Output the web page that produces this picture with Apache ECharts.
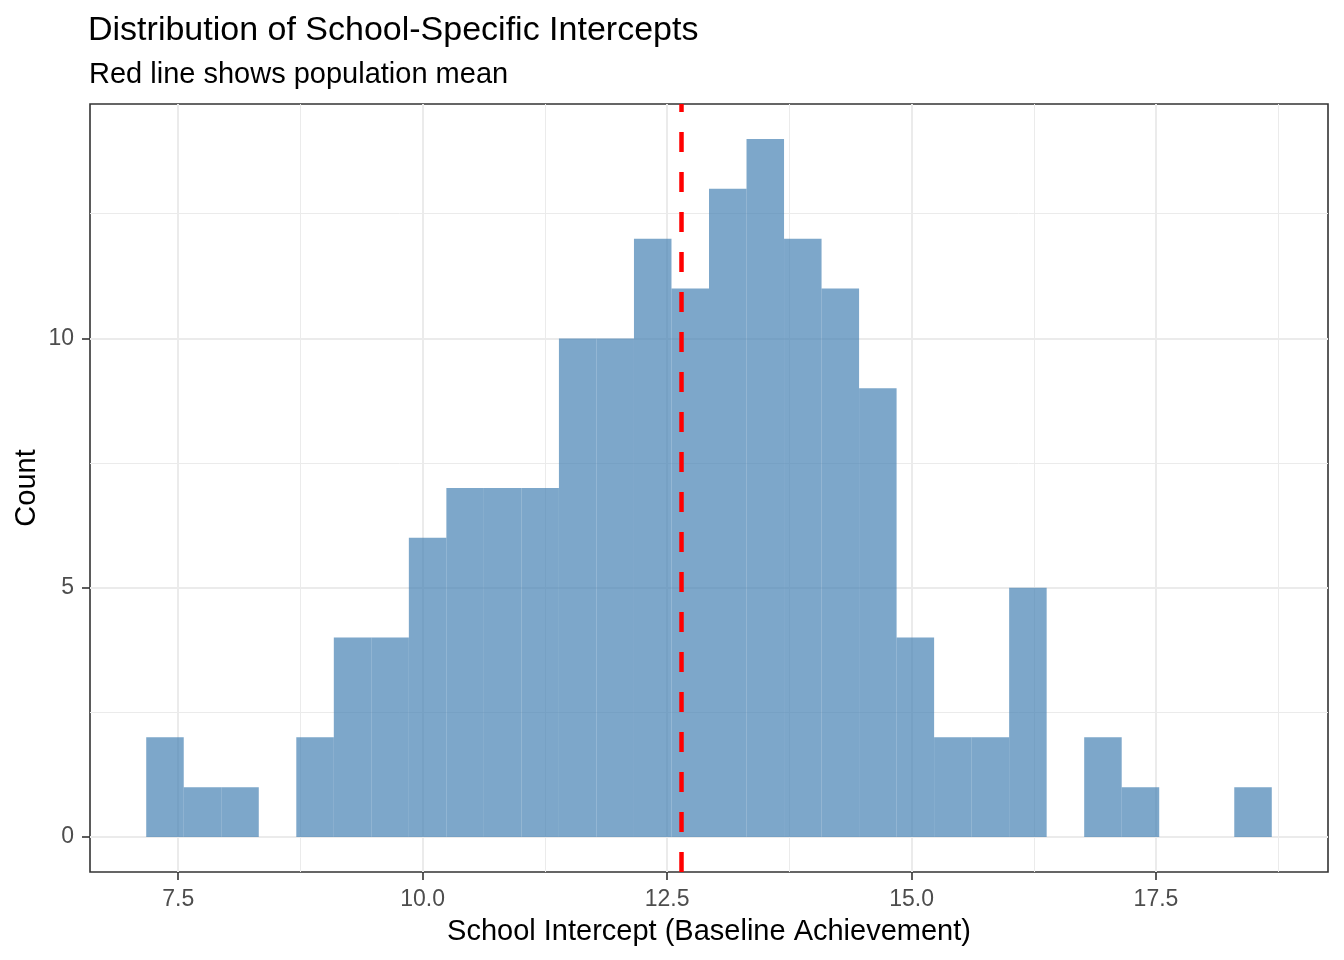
<!DOCTYPE html>
<html>
<head>
<meta charset="utf-8">
<script src="https://cdn.jsdelivr.net/npm/echarts@6/dist/echarts.min.js"></script>
<style>
html,body{margin:0;padding:0;background:#fff;}
#chart{width:1344px;height:960px;}
</style>
</head>
<body>
<div id="chart"></div>
<script>
// ---- data ----
const binStart = 7.173;       // left edge of first bin
const binWidth = 0.3837;      // bin width (30 bins)
const counts = [2,1,1,0,2,4,4,6,7,7,7,10,10,12,11,13,14,12,11,9,4,2,2,5,0,2,1,0,0,1];
const populationMean = 12.643;
const xTicks = [7.5, 10.0, 12.5, 15.0, 17.5];
const xMinorGrid = [8.75, 11.25, 13.75, 16.25, 18.75];
const yTicks = [0, 5, 10];
const yMinorGrid = [2.5, 7.5, 12.5];
const xRange = [6.598, 19.259];
const yRange = [-0.7, 14.7];

const FONT = "'Liberation Sans', Arial, sans-serif";
const binData = counts.map((c, i) => [binStart + i * binWidth, binStart + (i + 1) * binWidth, c]);

const chart = echarts.init(document.getElementById('chart'), null, {renderer: 'canvas'});

const gridMajor = {color: '#EBEBEB', width: 2, type: 'solid'};
const gridMinor = {color: '#EBEBEB', width: 1, type: 'solid'};

chart.setOption({
  backgroundColor: '#fff',
  animation: false,
  title: [
    {text: 'Distribution of School-Specific Intercepts', left: 88, top: 14, padding: 0,
     textStyle: {fontFamily: FONT, fontSize: 34, fontWeight: 'normal', color: '#000'}},
    {text: 'Red line shows population mean', left: 89, top: 60, padding: 0,
     textStyle: {fontFamily: FONT, fontSize: 29, fontWeight: 'normal', color: '#000'}}
  ],
  grid: {left: 90, right: 16, top: 104, bottom: 88, show: true, borderColor: '#333333', borderWidth: 1.6, backgroundColor: '#fff'},
  xAxis: {
    type: 'value', min: xRange[0], max: xRange[1],
    name: 'School Intercept (Baseline Achievement)', nameLocation: 'middle', nameGap: 45,
    nameTextStyle: {fontFamily: FONT, fontSize: 29, color: '#000'},
    axisLine: {show: false, onZero: false},
    axisTick: {show: true, customValues: xTicks, length: 8, lineStyle: {color: '#333333', width: 1.6}},
    axisLabel: {customValues: xTicks, formatter: v => v.toFixed(1), fontFamily: FONT, fontSize: 23, color: '#4D4D4D', margin: 16},
    splitLine: {show: false}
  },
  yAxis: {
    type: 'value', min: yRange[0], max: yRange[1],
    name: 'Count', nameLocation: 'middle', nameGap: 49, nameRotate: 90, nameMoveOverlap: false,
    nameTextStyle: {fontFamily: FONT, fontSize: 29, color: '#000'},
    axisLine: {show: false, onZero: false},
    axisTick: {show: true, customValues: yTicks, length: 8, lineStyle: {color: '#333333', width: 1.6}},
    axisLabel: {customValues: yTicks, fontFamily: FONT, fontSize: 23, color: '#4D4D4D', margin: 16},
    splitLine: {show: false}
  },
  series: [
    {
      name: 'grid', type: 'line', data: [], silent: true, z: 0,
      markLine: {
        silent: true, symbol: 'none', label: {show: false}, animation: false, z: 0,
        data: [
          ...xMinorGrid.map(v => ({xAxis: v, lineStyle: gridMinor})),
          ...yMinorGrid.map(v => ({yAxis: v, lineStyle: gridMinor})),
          ...xTicks.map(v => ({xAxis: v, lineStyle: gridMajor})),
          ...yTicks.map(v => ({yAxis: v, lineStyle: gridMajor}))
        ]
      }
    },
    {
      name: 'hist', type: 'custom', z: 3, silent: true,
      data: binData,
      renderItem: function (params, api) {
        const p0 = api.coord([api.value(0), api.value(2)]);
        const p1 = api.coord([api.value(1), 0]);
        return {
          type: 'rect',
          shape: {x: p0[0], y: p0[1], width: p1[0] - p0[0], height: p1[1] - p0[1]},
          style: {fill: 'rgba(70,130,180,0.7)', stroke: null}
        };
      },
      encode: {x: [0, 1], y: 2}
    },
    {
      name: 'mean', type: 'line', data: [], silent: true, z: 6,
      markLine: {
        silent: true, symbol: 'none', label: {show: false}, animation: false, z: 6,
        lineStyle: {color: '#FF0000', width: 4.5, type: [20, 20]},
        data: [[{coord: [populationMean, yRange[0]]}, {coord: [populationMean, yRange[1]]}]]
      }
    }
  ]
});
</script>
</body>
</html>
